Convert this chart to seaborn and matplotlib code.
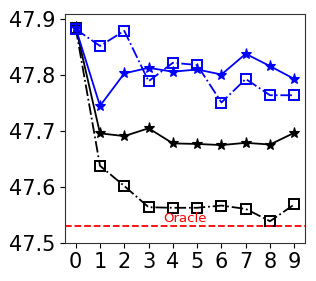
import matplotlib
matplotlib.use("Agg")
import matplotlib.pyplot as plt
import seaborn as sns
import pandas as pd

steps = [0, 1, 2, 3, 4, 5, 6, 7, 8, 9]
blue_star = [47.883, 47.744, 47.802, 47.812, 47.805, 47.809, 47.800, 47.837, 47.815, 47.792]
blue_square = [47.881, 47.851, 47.878, 47.788, 47.821, 47.817, 47.750, 47.792, 47.763, 47.763]
black_star = [47.885, 47.695, 47.690, 47.704, 47.677, 47.676, 47.674, 47.678, 47.675, 47.696]
black_square = [47.883, 47.637, 47.601, 47.563, 47.562, 47.562, 47.566, 47.560, 47.538, 47.568]
oracle = 47.53
yticks = [47.5, 47.6, 47.7, 47.8, 47.9]

sns.set_style("ticks")
fig, ax = plt.subplots(figsize=(3.16, 2.81), dpi=100)

series = [
    (black_square, "black", "-.", "s", "none"),
    (black_star, "black", "-", "*", "black"),
    (blue_square, "blue", "-.", "s", "none"),
    (blue_star, "blue", "-", "*", "blue"),
]
for vals, color, ls, mk, mfc in series:
    df = pd.DataFrame({"step": steps, "val": vals})
    sns.lineplot(data=df, x="step", y="val", ax=ax, color=color, linestyle=ls,
                 marker=mk, markersize=7 if mk == "s" else 8,
                 markerfacecolor=mfc, markeredgecolor=color,
                 markeredgewidth=1.4 if mk == "s" else 0.8,
                 linewidth=1.3)

ax.axhline(oracle, color="red", linestyle="--", linewidth=1.3)
ax.text(4.5, oracle + 0.007, "Oracle", color="red", fontsize=9.5, ha="center", va="baseline")

ax.set_xlim(-0.45, 9.45)
ax.set_ylim(47.5, 47.908)
ax.set_xticks(steps)
ax.set_yticks(yticks)
ax.set_yticklabels([f"{v:.1f}" for v in yticks])
ax.tick_params(labelsize=15, colors="black")
ax.set_xlabel("")
ax.set_ylabel("")
for s in ax.spines.values():
    s.set_visible(True)
    s.set_color("#333333")

fig.subplots_adjust(left=0.205, right=0.966, top=0.95, bottom=0.137)
fig.savefig("out.png", dpi=100)
